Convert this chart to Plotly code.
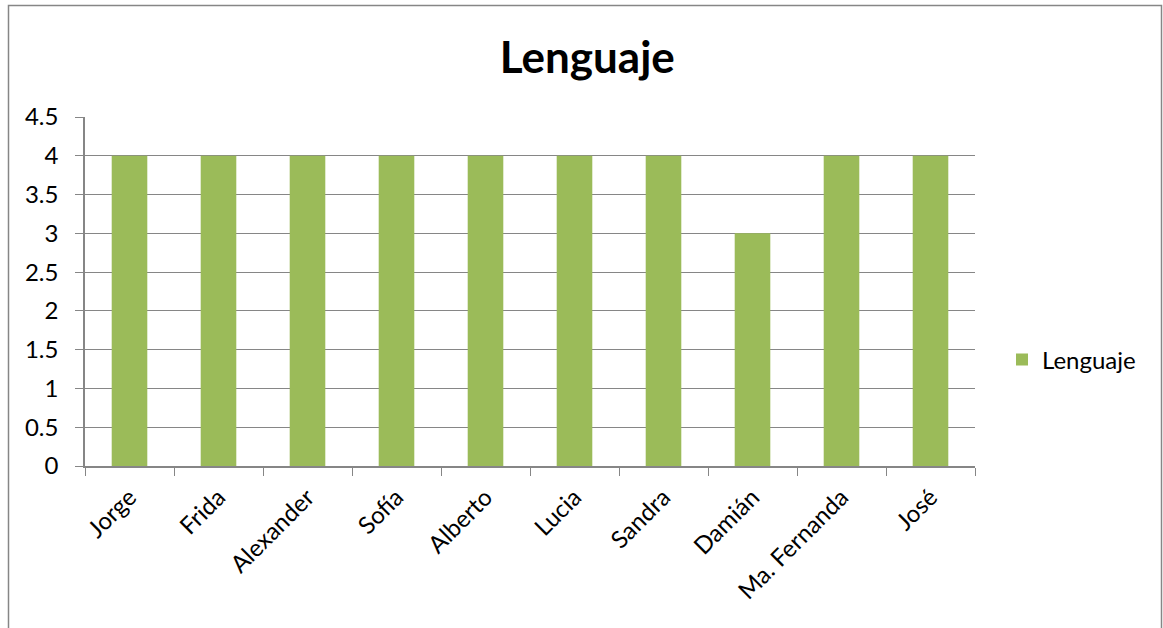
import plotly.graph_objects as go

names = ["Jorge", "Frida", "Alexander", "Sofía", "Alberto", "Lucia", "Sandra", "Damián", "Ma. Fernanda", "José"]
lenguaje = [4, 4, 4, 4, 4, 4, 4, 3, 4, 4]
series_name = "Lenguaje"
y_ticks = [0, 0.5, 1, 1.5, 2, 2.5, 3, 3.5, 4, 4.5]
y_tick_labels = ["0", "0.5", "1", "1.5", "2", "2.5", "3", "3.5", "4", "4.5"]

FONT = "Lato"
GRID = "#868686"
TS = 24

fig = go.Figure()
fig.add_trace(go.Bar(x=names, y=lenguaje, name=series_name, marker=dict(color="#9BBB59", line=dict(width=0))))

W, H = 1163, 628
L, R, T, B = 85, 975, 117, 466
pw, ph = R - L, B - T

fig.update_layout(
    width=W, height=H,
    margin=dict(l=L, r=W - R, t=T, b=H - B),
    paper_bgcolor="white", plot_bgcolor="white",
    bargap=0.6,
    font=dict(family=FONT, size=TS, color="black"),
    title=dict(text="<b>Lenguaje</b>", x=0.505, xref="container", xanchor="center",
               y=1 - 58 / H, yref="container", yanchor="middle",
               font=dict(family=FONT, size=44, color="black")),
    showlegend=True,
    legend=dict(x=(1002 - L) / pw, y=(B - 360) / ph, xanchor="left", yanchor="middle",
                font=dict(family=FONT, size=TS, color="black"), bgcolor="rgba(0,0,0,0)",
                itemwidth=30),
    xaxis=dict(tickangle=-45, tickson="boundaries", ticks="outside", ticklen=8, tickcolor=GRID,
               showline=True, linecolor=GRID, linewidth=1.5, showgrid=False,
               ticklabelstandoff=6,
               tickfont=dict(family=FONT, size=TS, color="black")),
    yaxis=dict(range=[0, 4.5], tickvals=y_ticks, ticktext=y_tick_labels, ticks="outside",
               ticklen=8, tickcolor=GRID, showline=True, linecolor=GRID, linewidth=1.5,
               showgrid=True, gridcolor=GRID, gridwidth=1.3, zeroline=False,
               ticklabelstandoff=12,
               tickfont=dict(family=FONT, size=TS, color="black")),
)

fig.add_shape(type="rect", xref="paper", yref="paper",
              x0=(8.5 - L) / pw, x1=(1161.5 - L) / pw,
              y0=(B - 660) / ph, y1=(B - 5.5) / ph,
              line=dict(color=GRID, width=1.5), fillcolor="rgba(0,0,0,0)", layer="below")

fig.write_html("out.html", config={"displayModeBar": False},
               post_script="document.body.style.margin='0px';document.body.style.overflow='hidden';")
